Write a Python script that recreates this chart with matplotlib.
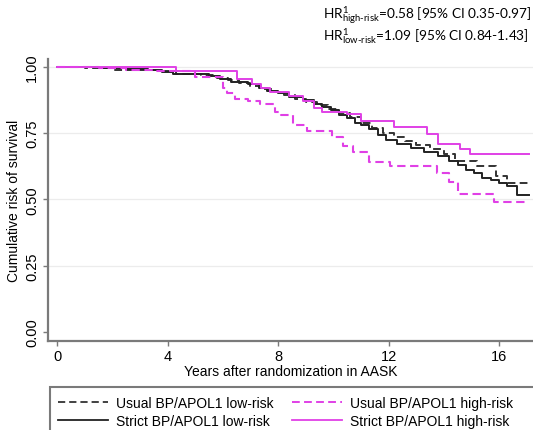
import matplotlib
matplotlib.use("Agg")
import matplotlib.pyplot as plt
from matplotlib.lines import Line2D
from matplotlib.patches import Rectangle

plt.rcParams['font.family'] = ['Liberation Sans', 'DejaVu Sans']
plt.rcParams['mathtext.fontset'] = 'custom'
plt.rcParams['mathtext.rm'] = 'Lato'
plt.rcParams['mathtext.it'] = 'Lato:italic'

# Kaplan-Meier step points (years, survival)
usual_low_t = [0, 1.0, 2.0, 3.0, 3.8, 4.3, 5.2, 5.8, 6.2, 6.6, 7.0, 7.4, 7.8, 8.2, 8.6,
               9.0, 9.4, 9.8, 10.2, 10.6, 11.0, 11.4, 11.8, 12.2, 12.6, 13.0, 13.5,
               14.0, 14.4, 15.2, 15.9, 16.3, 17.1]
usual_low_s = [1.0, 0.995, 0.99, 0.988, 0.983, 0.975, 0.968, 0.96, 0.95, 0.94, 0.93,
               0.915, 0.905, 0.893, 0.88, 0.868, 0.855, 0.84, 0.825, 0.81, 0.79, 0.77,
               0.75, 0.735, 0.72, 0.705, 0.69, 0.67, 0.645, 0.627, 0.59, 0.563, 0.563]

strict_low_t = [0, 1.5, 2.5, 3.3, 3.8, 4.2, 5.5, 5.9, 6.3, 6.9, 7.3, 7.6, 8.0, 8.4, 8.9,
                9.3, 9.6, 9.9, 10.2, 10.5, 10.8, 11.0, 11.3, 11.6, 11.9, 12.3, 12.8,
                13.3, 13.8, 14.2, 14.5, 14.8, 15.1, 15.4, 15.7, 16.0, 16.3, 16.65, 17.1]
strict_low_s = [1.0, 0.997, 0.993, 0.99, 0.982, 0.972, 0.965, 0.955, 0.945, 0.935, 0.922,
                0.91, 0.9, 0.888, 0.875, 0.862, 0.85, 0.836, 0.82, 0.806, 0.79, 0.78,
                0.765, 0.745, 0.725, 0.71, 0.695, 0.68, 0.665, 0.645, 0.63, 0.61, 0.6,
                0.58, 0.575, 0.563, 0.55, 0.515, 0.515]

usual_high_t = [0, 1.5, 2.5, 3.5, 5.0, 6.0, 6.15, 6.45, 6.9, 7.35, 7.9, 8.1, 8.55, 9.05,
                9.95, 10.35, 10.7, 11.3, 12.05, 13.75, 14.2, 14.5, 15.8, 17.1]
usual_high_s = [1.0, 0.995, 0.99, 0.985, 0.962, 0.92, 0.9, 0.88, 0.87, 0.86, 0.83, 0.82,
                0.78, 0.76, 0.735, 0.70, 0.68, 0.64, 0.627, 0.60, 0.566, 0.52, 0.49, 0.49]

strict_high_t = [0, 4.3, 6.5, 7.05, 7.4, 7.7, 8.4, 8.9, 9.3, 9.6, 10.5, 11.0, 12.2, 13.4,
                 13.8, 14.6, 14.95, 17.1]
strict_high_s = [1.0, 0.985, 0.955, 0.936, 0.92, 0.905, 0.89, 0.87, 0.845, 0.83, 0.822,
                 0.796, 0.773, 0.747, 0.71, 0.69, 0.672, 0.672]

x_ticks = [0, 4, 8, 12, 16]
y_ticks = [0.0, 0.25, 0.5, 0.75, 1.0]
y_ticklabels = ['0.00', '0.25', '0.50', '0.75', '1.00']

series_labels = ['Usual BP/APOL1 low-risk', 'Strict BP/APOL1 low-risk',
                 'Usual BP/APOL1 high-risk', 'Strict BP/APOL1 high-risk']

magenta = '#e040e6'
axis_grey = '#7a7a7a'

fig = plt.figure(figsize=(5.33, 4.31), dpi=100)
ax = fig.add_axes([48 / 533, 89 / 431, 485 / 533, 282 / 431])

for y in y_ticks[1:]:
    ax.axhline(y, color='#ececec', lw=0.9, zorder=0)

ax.plot(usual_low_t, usual_low_s, drawstyle='steps-post', color='#333333', lw=1.4,
        dashes=(4, 2.2))
ax.plot(strict_low_t, strict_low_s, drawstyle='steps-post', color='#222222', lw=1.4)
ax.plot(usual_high_t, usual_high_s, drawstyle='steps-post', color=magenta, lw=1.5,
        dashes=(4, 2.2))
ax.plot(strict_high_t, strict_high_s, drawstyle='steps-post', color=magenta, lw=1.4)

ax.set_xlim(-0.33, 17.23)
ax.set_ylim(-0.034, 1.03)
ax.set_xticks(x_ticks)
ax.set_yticks(y_ticks)
ax.set_yticklabels(y_ticklabels, rotation=90, va='center')
ax.tick_params(axis='both', direction='out', length=3.5, width=1, color=axis_grey,
               labelsize=10.5, pad=2)
ax.tick_params(axis='y', pad=3)

for side in ['top', 'right']:
    ax.spines[side].set_visible(False)
for side in ['left', 'bottom']:
    ax.spines[side].set_color(axis_grey)
    ax.spines[side].set_linewidth(1.6)

ax.set_xlabel('Years after randomization in AASK', fontsize=10, labelpad=1)
ax.set_ylabel('Cumulative risk of survival', fontsize=10, labelpad=3)

fig.text(323 / 533, 1 - 16 / 431,
         r'$\mathrm{HR}^{1}_{\text{high-risk}}$=0.58 [95% CI 0.35-0.97]',
         family='Lato', fontsize=9.8, va='center', ha='left')
fig.text(323 / 533, 1 - 36 / 431,
         r'$\mathrm{HR}^{1}_{\text{low-risk}}$=1.09 [95% CI 0.84-1.43]',
         family='Lato', fontsize=9.8, va='center', ha='left')

# legend box runs off the bottom edge
fig.patches.append(Rectangle((50 / 533, -0.05), 0.95, (431 - 388) / 431 + 0.05,
                             transform=fig.transFigure, fill=False,
                             ec=axis_grey, lw=1.5))
handles = [
    Line2D([], [], color='#333333', lw=1.3, dashes=(4, 2.2)),
    Line2D([], [], color='#222222', lw=1.3),
    Line2D([], [], color=magenta, lw=1.4, dashes=(4, 2.2)),
    Line2D([], [], color=magenta, lw=1.3),
]
fig.legend(handles, series_labels, ncol=2, frameon=False, fontsize=10,
           loc='upper left', bbox_to_anchor=(48 / 533, 1 - 387 / 431),
           handlelength=3.6, handletextpad=0.6, columnspacing=1.3,
           labelspacing=0.3, borderpad=0.2)

fig.savefig('out.png', dpi=100)
